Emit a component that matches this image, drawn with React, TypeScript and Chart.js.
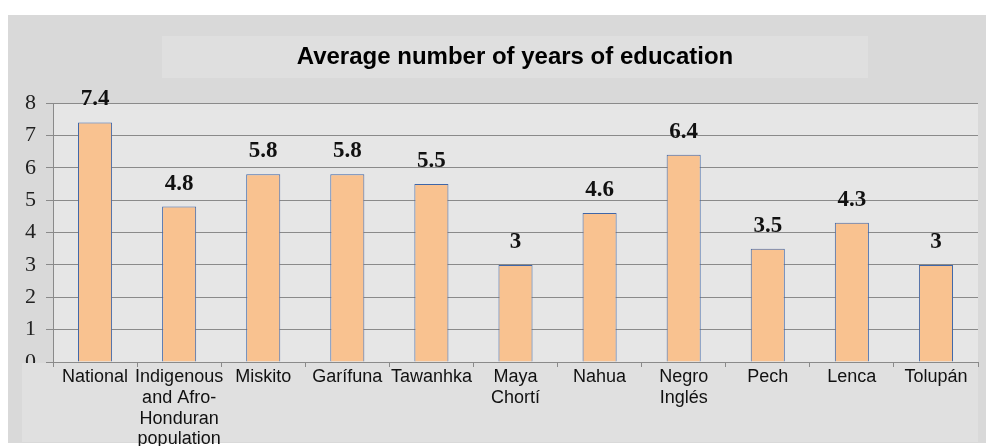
import React, { useEffect, useRef } from "react";
import { Chart, registerables } from "chart.js";

Chart.register(...registerables);

const TITLE = "Average number of years of education";
const categories: (string | string[])[] = [
  "National",
  ["Indigenous", "and Afro-", "Honduran", "population"],
  "Miskito",
  "Garífuna",
  "Tawanhka",
  ["Maya", "Chortí"],
  "Nahua",
  ["Negro", "Inglés"],
  "Pech",
  "Lenca",
  "Tolupán",
];
const years = [7.4, 4.8, 5.8, 5.8, 5.5, 3, 4.6, 6.4, 3.5, 4.3, 3];
const yTicks = [0, 1, 2, 3, 4, 5, 6, 7, 8];

const W = 986;
const H = 446;

const backgroundPlugin = {
  id: "bgPanels",
  beforeDraw(chart: any) {
    const { ctx, chartArea } = chart;
    ctx.save();
    ctx.fillStyle = "#ffffff";
    ctx.fillRect(0, 0, W, H);
    ctx.fillStyle = "#d9d9d9";
    ctx.fillRect(8, 15, W - 8, H - 18);
    // title box
    ctx.fillStyle = "#dfdfdf";
    ctx.fillRect(162, 36, 706, 42);
    ctx.fillStyle = "#000000";
    ctx.font = "bold 24px Arial, 'Liberation Sans', sans-serif";
    ctx.textAlign = "center";
    ctx.textBaseline = "middle";
    ctx.fillText(TITLE, 515, 57);
    // plot area
    ctx.fillStyle = "#e6e6e6";
    ctx.fillRect(chartArea.left, chartArea.top, chartArea.right - chartArea.left, chartArea.bottom - chartArea.top);
    ctx.restore();
  },
  beforeDatasetsDraw(chart: any) {
    const { ctx, chartArea } = chart;
    ctx.save();
    ctx.fillStyle = "#e0e0e0";
    ctx.fillRect(22, chartArea.bottom + 1, chartArea.right - 22, H - 4 - chartArea.bottom - 1);
    ctx.restore();
  },
};

const labelPlugin = {
  id: "barLabels",
  afterDatasetsDraw(chart: any) {
    const { ctx } = chart;
    const meta = chart.getDatasetMeta(0);
    const data = chart.data.datasets[0].data as number[];
    ctx.save();
    ctx.fillStyle = "#111111";
    ctx.font = "bold 23px 'Liberation Serif', 'Times New Roman', serif";
    ctx.textAlign = "center";
    ctx.textBaseline = "alphabetic";
    meta.data.forEach((bar: any, i: number) => {
      ctx.fillText(String(data[i]), bar.x, bar.y - 17);
    });
    ctx.restore();
  },
};

export default function App() {
  const ref = useRef<HTMLCanvasElement | null>(null);
  useEffect(() => {
    if (!ref.current) return;
    const chart = new Chart(ref.current, {
      type: "bar",
      data: {
        labels: categories,
        datasets: [
          {
            data: years,
            backgroundColor: "#f9c290",
            borderColor: "#3f66a8",
            borderWidth: 1,
            barPercentage: 0.405,
            categoryPercentage: 1,
          },
        ],
      },
      options: {
        animation: false,
        responsive: true,
        maintainAspectRatio: false,
        layout: { padding: { left: 0, top: 103, right: 8, bottom: 0 } },
        plugins: {
          legend: { display: false },
          title: { display: false },
          tooltip: { enabled: false },
        },
        scales: {
          y: {
            min: 0,
            max: 8,
            afterFit(scale: any) {
              scale.width = 53;
            },
            afterBuildTicks(scale: any) {
              scale.ticks = yTicks.map((v) => ({ value: v }));
            },
            ticks: {
              color: "#222222",
              font: { family: "'Liberation Serif', 'Times New Roman', serif", size: 22 },
              padding: 10,
              z: 0,
            },
            grid: { color: "#8a8a8a", lineWidth: 1, tickLength: 7, z: 0 },
            border: { color: "#8a8a8a", z: 0 },
          },
          x: {
            afterFit(scale: any) {
              scale.height = 84;
            },
            ticks: {
              color: "#111111",
              font: { family: "Arial, 'Liberation Sans', sans-serif", size: 18, lineHeight: 1.15 },
              padding: 0,
              maxRotation: 0,
              autoSkip: false,
              z: 1,
            },
            grid: { drawOnChartArea: false, color: "#8a8a8a", tickLength: 5, offset: true, z: 1 },
            border: { color: "#8a8a8a", z: 1 },
          },
        },
      },
      plugins: [backgroundPlugin, labelPlugin],
    });
    return () => chart.destroy();
  }, []);
  return (
    <div style={{ position: "absolute", left: 0, top: 0, width: W, height: H }}>
      <canvas ref={ref} />
    </div>
  );
}
